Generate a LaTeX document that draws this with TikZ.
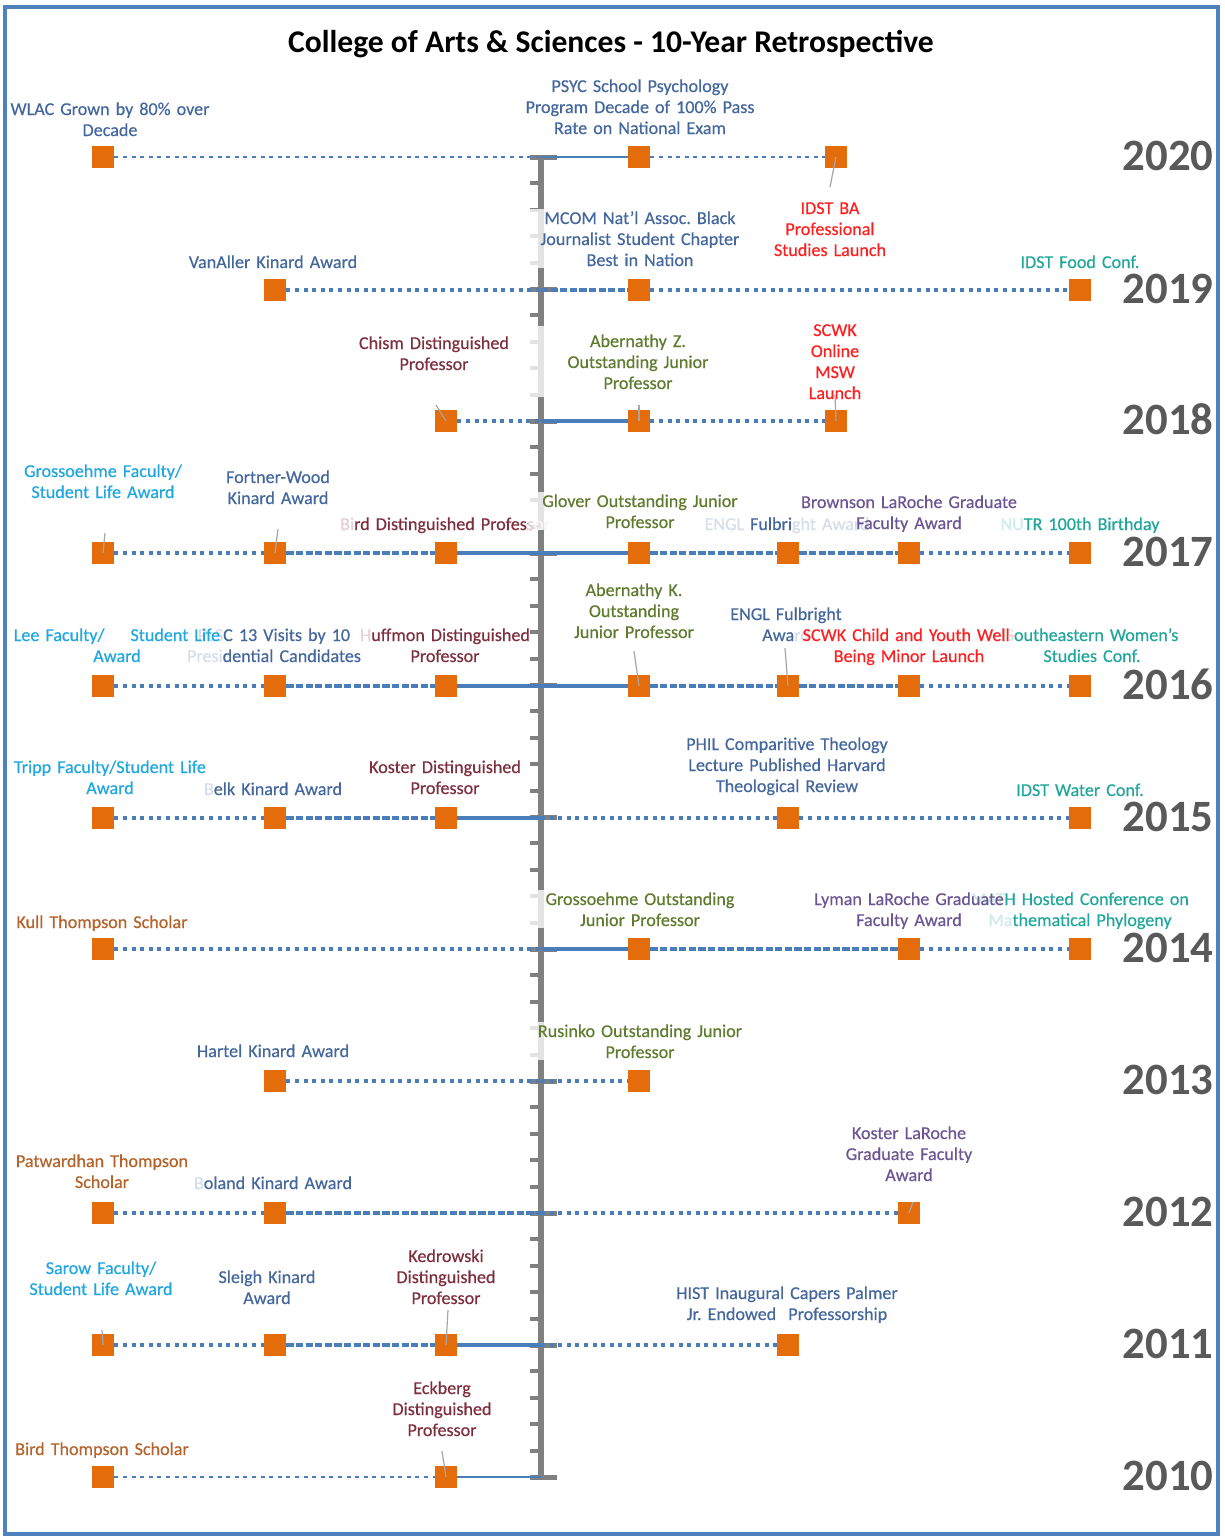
\documentclass[tikz,border=0pt]{standalone}
\usepackage{fontspec}
\setmainfont{Carlito}
\newfontfamily\labfam[FakeBold=0.4]{Carlito}
\frenchspacing
\definecolor{lblue}{HTML}{4A7EBB}
\definecolor{sqorange}{HTML}{E46C0A}
\definecolor{axgray}{HTML}{808080}
\definecolor{yeargray}{HTML}{595959}
\definecolor{leadgray}{HTML}{A6A6A6}
\definecolor{frameblue}{HTML}{4F81BD}
\definecolor{cblue}{HTML}{44679E}
\definecolor{clight}{HTML}{1FA7E1}
\definecolor{cmaroon}{HTML}{7E2F3E}
\definecolor{cgreen}{HTML}{5E7B2E}
\definecolor{cpurple}{HTML}{6C5594}
\definecolor{cteal}{HTML}{21A69B}
\definecolor{cred}{HTML}{FF1F1F}
\definecolor{cbrown}{HTML}{B5632A}
\newcommand\labfont{\labfam\fontsize{9.05pt}{10.5pt}\selectfont}
\newcommand\yrfont{\fontsize{22.4pt}{24pt}\selectfont\bfseries}
\newcommand\ttlfont{\fontsize{15.8pt}{18pt}\selectfont\bfseries}
\newcommand\fadetxt[2]{{\color{#1!22}#2}}
\begin{document}
\begin{tikzpicture}[x={(0.5pt,0)},y={(0,-0.5pt)},
  sq/.style={fill=sqorange, minimum size=11pt, inner sep=0pt},
  lab/.style={font=\labfont, align=center, text width=#1, anchor=base, inner sep=1pt},
  lab/.default=130pt,
  veil/.style={fill=white, fill opacity=0.78, text opacity=1},
  yr/.style={font=\yrfont, text=yeargray, anchor=base east, inner sep=0pt},
  ttl/.style={font=\ttlfont, anchor=base, inner sep=0pt},
  dotl/.style={draw=lblue, line width=2pt, dash pattern=on 2pt off 2.3pt},
  dashl/.style={draw=lblue, line width=2pt, dash pattern=on 3.6pt off 1.2pt},
  soll/.style={draw=lblue, line width=2pt},
  tdash/.style={draw=lblue, line width=0.8pt, dash pattern=on 2pt off 2.3pt},
  tsol/.style={draw=lblue, line width=0.8pt},
  leader/.style={draw=leadgray, line width=0.6pt},
  axisline/.style={draw=axgray, line width=3pt},
  tickmin/.style={draw=axgray, line width=2pt},
  tickmaj/.style={draw=axgray, line width=2.5pt}]
\useasboundingbox (0,0) rectangle (1225,1537);
\fill[white] (0,0) rectangle (1225,1537);
\draw[frameblue, line width=2pt] (5,7) rectangle (1218,1534);

% title
\node[ttl] (title) at (611,52) {College of Arts \& Sciences - 10-Year Retrospective};

% axis
\coordinate (axtop) at (541,157);
\coordinate (axbot) at (541,1477);
\draw[axisline] (axtop) -- (axbot);
\foreach \k in {0,...,10} {
  \draw[tickmaj] (530,157+\k*132) -- (557,157+\k*132);
}
\foreach \k in {0,...,9} {
  \foreach \m in {1,...,4} {
    \draw[tickmin] (530,157+\k*132+\m*26.4) -- (541,157+\k*132+\m*26.4);
  }
}
\foreach \yy/\nm in {157/20,290/19,421/18,553/17,686/16,818/15,949/14,1081/13,1213/12,1345/11,1477/10} {
  \coordinate (ax\nm) at (541,\yy);
}

% years
\node[yr] (y20) at (1214,170) {2020};
\node[yr] (y19) at (1214,303) {2019};
\node[yr] (y18) at (1214,434) {2018};
\node[yr] (y17) at (1214,566) {2017};
\node[yr] (y16) at (1214,699) {2016};
\node[yr] (y15) at (1214,831) {2015};
\node[yr] (y14) at (1214,962) {2014};
\node[yr] (y13) at (1214,1094) {2013};
\node[yr] (y12) at (1214,1226) {2012};
\node[yr] (y11) at (1214,1358) {2011};
\node[yr] (y10) at (1214,1490) {2010};

% squares
\node[sq] (q20a) at (103,157) {};
\node[sq] (q20d) at (639,157) {};
\node[sq] (q20f) at (836,157) {};
\node[sq] (q19b) at (275,290) {};
\node[sq] (q19d) at (639,290) {};
\node[sq] (q19h) at (1080,290) {};
\node[sq] (q18c) at (446,421) {};
\node[sq] (q18d) at (639,421) {};
\node[sq] (q18f) at (836,421) {};
\foreach \c/\xx in {a/103,b/275,c/446,d/639,e/788,g/909,h/1080} {
  \node[sq] (q17\c) at (\xx,553) {};
  \node[sq] (q16\c) at (\xx,686) {};
}
\foreach \c/\xx in {a/103,b/275,c/446,e/788,h/1080} {
  \node[sq] (q15\c) at (\xx,818) {};
}
\foreach \c/\xx in {a/103,d/639,g/909,h/1080} {
  \node[sq] (q14\c) at (\xx,949) {};
}
\node[sq] (q13b) at (275,1081) {};
\node[sq] (q13d) at (639,1081) {};
\node[sq] (q12a) at (103,1213) {};
\node[sq] (q12b) at (275,1213) {};
\node[sq] (q12g) at (909,1213) {};
\node[sq] (q11a) at (103,1345) {};
\node[sq] (q11b) at (275,1345) {};
\node[sq] (q11c) at (446,1345) {};
\node[sq] (q11e) at (788,1345) {};
\node[sq] (q10a) at (103,1477) {};
\node[sq] (q10c) at (446,1477) {};

% connectors
\draw[tdash] (q20a) -- (ax20);
\draw[tsol] (ax20) -- (q20d);
\draw[tdash] (q20d) -- (q20f);

\draw[dotl] (q19b) -- (ax19);
\draw[dashl] (ax19) -- (q19d);
\draw[dotl] (q19d) -- (q19h);

\draw[dotl] (q18c) -- (ax18);
\draw[soll] (ax18) -- (q18d);
\draw[dotl] (q18d) -- (q18f);

\foreach \yr in {17,16} {
  \draw[dotl] (q\yr a) -- (q\yr b);
  \draw[dashl] (q\yr b) -- (q\yr c);
  \draw[soll] (q\yr c) -- (ax\yr);
  \draw[soll] (ax\yr) -- (q\yr d);
  \draw[dashl] (q\yr d) -- (q\yr e);
  \draw[dashl] (q\yr e) -- (q\yr g);
  \draw[dotl] (q\yr g) -- (q\yr h);
}

\draw[dotl] (q15a) -- (q15b);
\draw[dashl] (q15b) -- (q15c);
\draw[soll] (q15c) -- (ax15);
\draw[dotl] (ax15) -- (q15e);
\draw[dotl] (q15e) -- (q15h);

\draw[dotl] (q14a) -- (ax14);
\draw[soll] (ax14) -- (q14d);
\draw[dashl] (q14d) -- (q14g);
\draw[dotl] (q14g) -- (q14h);

\draw[dotl] (q13b) -- (ax13);
\draw[dotl] (ax13) -- (q13d);

\draw[dotl] (q12a) -- (q12b);
\draw[dashl] (q12b) -- (ax12);
\draw[dotl] (ax12) -- (q12g);

\draw[dotl] (q11a) -- (q11b);
\draw[dashl] (q11b) -- (q11c);
\draw[soll] (q11c) -- (ax11);
\draw[dotl] (ax11) -- (q11e);

\draw[tdash] (q10a) -- (q10c);
\draw[tsol] (q10c) -- (ax10);

% labels 2020
\node[lab, text=cblue] (l20a) at (110,115) {WLAC Grown by 80\% over\\Decade};
\node[lab, text=cblue] (l20d) at (640,92) {PSYC School Psychology\\Program Decade of 100\% Pass\\Rate on National Exam};
\node[lab, text=cred] (l20f) at (830,214) {IDST BA\\Professional\\Studies Launch};
% 2019
\node[lab, text=cblue] (l19b) at (273,268) {VanAller Kinard Award};
\node[lab=110pt, veil, text=cblue] (l19d) at (640,224) {MCOM Nat’l Assoc. Black\\Journalist Student Chapter\\Best in Nation};
\node[lab, text=cteal] (l19h) at (1080,268) {IDST Food Conf.};
% 2018
\node[lab, text=cmaroon] (l18c) at (434,349) {Chism Distinguished\\Professor};
\node[lab=110pt, veil, inner ysep=4pt, text=cgreen] (l18d) at (638,347) {Abernathy Z.\\Outstanding Junior\\Professor};
\node[lab, text=cred] (l18f) at (835,336) {SCWK\\Online\\MSW\\Launch};
% 2017
\node[lab, text=clight] (l17a) at (103,477) {Grossoehme Faculty/\\Student Life Award};
\node[lab, text=cblue] (l17b) at (278,483) {Fortner-Wood\\Kinard Award};
\node[lab, text=cmaroon] (l17c) at (445,530) {\fadetxt{cmaroon}{Bi}rd Distinguished Profess\fadetxt{cmaroon}{or}};
\node[lab=110pt, veil, text=cgreen] (l17d) at (640,507) {Glover Outstanding Junior\\Professor};
\node[lab, text=cblue] (l17e) at (787,530) {\fadetxt{cblue}{ENGL} Fulbri\fadetxt{cblue}{ght Award}};
\node[lab, text=cpurple] (l17g) at (909,508) {Brownson LaRoche Graduate\\Faculty Award};
\node[lab, text=cteal] (l17h) at (1080,530) {\fadetxt{cteal}{NU}TR 100th Birthday};
% 2016
\node[lab, text=cblue] (l16b) at (274,641) {\fadetxt{cblue}{PLS}C 13 Visits by 10\\\fadetxt{cblue}{Presi}dential Candidates};
\node[lab, text=clight] (l16a) at (117,641) {Lee Faculty/\hspace{13pt}Student Life\\Award};
\node[lab, text=cmaroon] (l16c) at (445,641) {\fadetxt{cmaroon}{H}uffmon Distinguished\\Professor};
\node[lab, text=cgreen] (l16d) at (634,596) {Abernathy K.\\Outstanding\\Junior Professor};
\node[lab, text=cblue] (l16e) at (786,620) {ENGL Fulbright\\Awa\fadetxt{cblue}{rd}};
\node[lab, text=cteal] (l16h) at (1092,641) {\fadetxt{cteal}{S}outheastern Women’s\\Studies Conf.};
\node[lab, text=cred] (l16g) at (909,641) {SCWK Child and Youth Well\fadetxt{cred}{-}\\Being Minor Launch};
% 2015
\node[lab, text=clight] (l15a) at (110,773) {Tripp Faculty/Student Life\\Award};
\node[lab, text=cblue] (l15b) at (273,795) {\fadetxt{cblue}{B}elk Kinard Award};
\node[lab, text=cmaroon] (l15c) at (445,773) {Koster Distinguished\\Professor};
\node[lab, text=cblue] (l15e) at (787,750) {PHIL Comparitive Theology\\Lecture Published Harvard\\Theological Review};
\node[lab, text=cteal] (l15h) at (1080,796) {IDST Water Conf.};
% 2014
\node[lab, text=cbrown] (l14a) at (102,928) {Kull Thompson Scholar};
\node[lab=110pt, veil, text=cgreen] (l14d) at (640,905) {Grossoehme Outstanding\\Junior Professor};
\node[lab, text=cteal] (l14h) at (1080,905) {\fadetxt{cteal}{MAT}H Hosted Conference on\\\fadetxt{cteal}{Ma}thematical Phylogeny};
\node[lab, text=cpurple] (l14g) at (909,905) {Lyman LaRoche Graduate\\Faculty Award};
% 2013
\node[lab, text=cblue] (l13b) at (273,1057) {Hartel Kinard Award};
\node[lab=110pt, veil, text=cgreen] (l13d) at (640,1037) {Rusinko Outstanding Junior\\Professor};
% 2012
\node[lab, text=cbrown] (l12a) at (102,1167) {Patwardhan Thompson\\Scholar};
\node[lab, text=cblue] (l12b) at (273,1189) {\fadetxt{cblue}{B}oland Kinard Award};
\node[lab, text=cpurple] (l12g) at (909,1139) {Koster LaRoche\\Graduate Faculty\\Award};
% 2011
\node[lab, text=clight] (l11a) at (101,1274) {Sarow Faculty/\\Student Life Award};
\node[lab, text=cblue] (l11b) at (267,1283) {Sleigh Kinard\\Award};
\node[lab, text=cmaroon] (l11c) at (446,1262) {Kedrowski\\Distinguished\\Professor};
\node[lab, text=cblue] (l11e) at (787,1299) {HIST Inaugural Capers Palmer\\Jr. Endowed\ \ Professorship};
% 2010
\node[lab, text=cbrown] (l10a) at (102,1455) {Bird Thompson Scholar};
\node[lab, text=cmaroon] (l10c) at (442,1394) {Eckberg\\Distinguished\\Professor};

% leader lines
\coordinate (k20f) at (830,187);
\coordinate (k18c) at (436,405);
\coordinate (k18d) at (639,405);
\coordinate (k18f) at (835,395);
\coordinate (k17a) at (105,533);
\coordinate (k17b) at (278,529);
\coordinate (k16d) at (634,651);
\coordinate (k16e) at (785,648);
\coordinate (k12g) at (913,1202);
\coordinate (k11a) at (102,1330);
\coordinate (k11c) at (448,1310);
\coordinate (k10c) at (442,1451);
\draw[leader] (k20f) -- (q20f.center);
\draw[leader] (k18c) -- (q18c.center);
\draw[leader] (k18d) -- (q18d.center);
\draw[leader] (k18f) -- (q18f.center);
\draw[leader] (k17a) -- (q17a.center);
\draw[leader] (k17b) -- (q17b.center);
\draw[leader] (k16d) -- (q16d.center);
\draw[leader] (k16e) -- (q16e.center);
\draw[leader] (k12g) -- (q12g.center);
\draw[leader] (k11a) -- (q11a.center);
\draw[leader] (k11c) -- (q11c.center);
\draw[leader] (k10c) -- (q10c.center);
\end{tikzpicture}
\end{document}
